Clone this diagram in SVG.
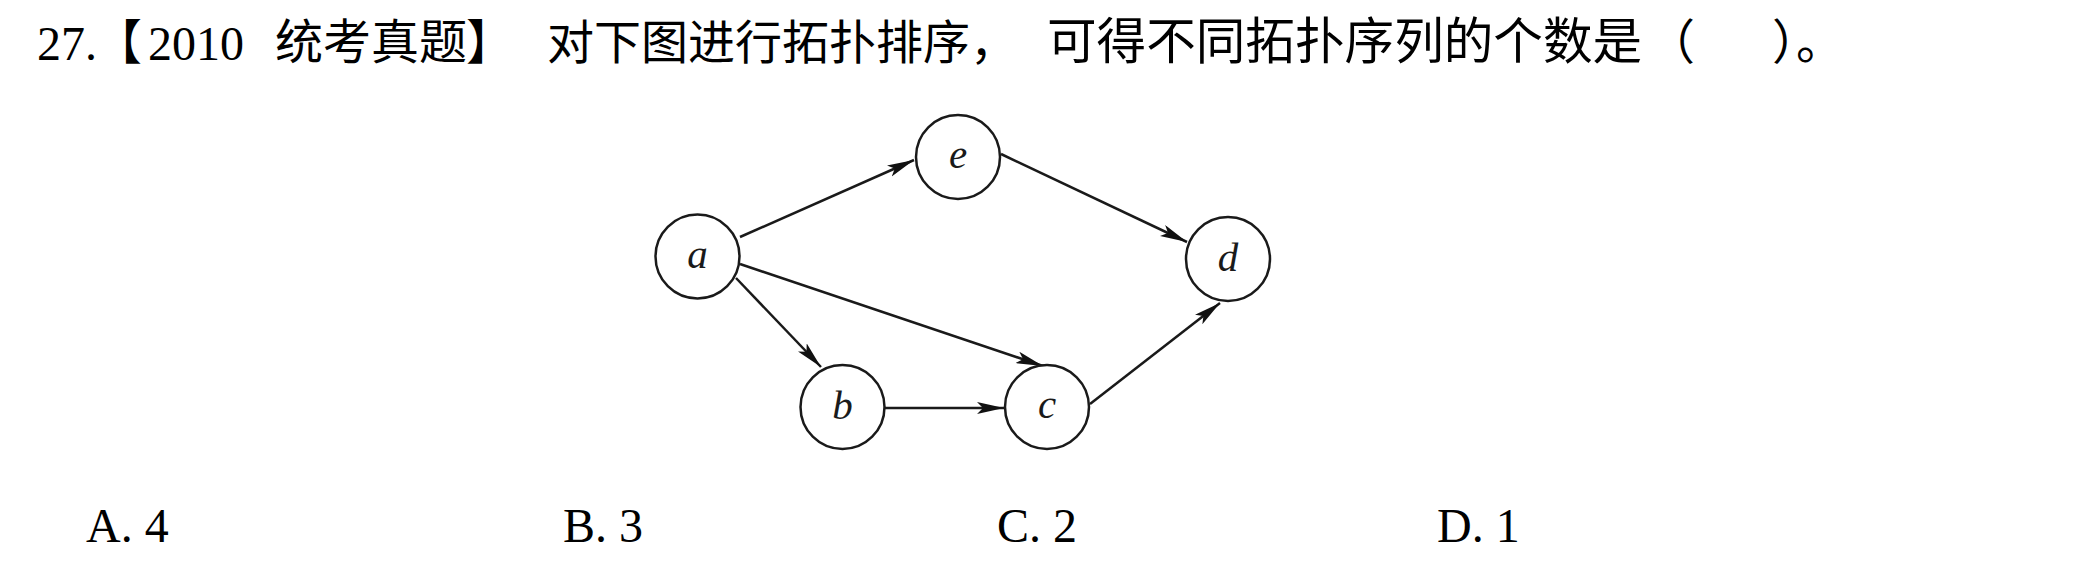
<svg xmlns="http://www.w3.org/2000/svg" width="2081" height="562" viewBox="0 0 2081 562">
<style>
.lat{font-family:"Liberation Serif","Times New Roman",serif;font-size:48px;fill:#000}
.cjk{font-family:"Noto Sans CJK SC","Noto Sans CJK JP",sans-serif;font-size:48px;fill:#000}
.node circle{fill:#fff;stroke:#1a1a1a;stroke-width:2.5}
.node text{font-family:"Liberation Serif","Times New Roman",serif;font-style:italic;font-size:41px;fill:#1a1a1a;text-anchor:middle}
.edge{stroke:#1a1a1a;stroke-width:2.5;fill:none;marker-end:url(#arr)}
</style>
<defs>
<marker id="arr" markerUnits="userSpaceOnUse" markerWidth="30" markerHeight="14" refX="27" refY="6" orient="auto">
<path d="M0,0 L27,6 L0,12 L6,6 Z" fill="#111"/>
</marker>
</defs>
<rect width="2081" height="562" fill="#fff"/>
<g id="title">
<text class="lat" x="37" y="60">27.</text>
<text class="cjk" x="94" y="59">【</text>
<text class="lat" x="148" y="60">2010</text>
<text class="cjk" x="275" y="59">统考真题</text>
<text class="cjk" x="466" y="59">】</text>
<text class="cjk" x="547" y="59" style="font-size:47px">对下图进行拓扑排序，</text>
<text class="cjk" x="1047" y="59" style="font-size:49.6px">可得不同拓扑序列的个数是</text>
<text class="cjk" x="1647" y="59">（</text>
<text class="cjk" x="1772" y="59">）。</text>
</g>
<g id="connectors">
<line class="edge" x1="740" y1="237" x2="914" y2="160"/>
<line class="edge" x1="1001" y1="154" x2="1187" y2="242"/>
<line class="edge" x1="736" y1="278" x2="821" y2="367"/>
<line class="edge" x1="740" y1="264" x2="1043" y2="366"/>
<line class="edge" x1="885" y1="408" x2="1004" y2="408"/>
<line class="edge" x1="1090" y1="404" x2="1220" y2="303"/>
</g>
<g id="node-a" class="node"><circle cx="697.5" cy="256.5" r="42"/><text x="697.5" y="268">a</text></g>
<g id="node-e" class="node"><circle cx="958" cy="157" r="42"/><text x="958" y="168">e</text></g>
<g id="node-d" class="node"><circle cx="1228" cy="259" r="42"/><text x="1228" y="271">d</text></g>
<g id="node-b" class="node"><circle cx="842.5" cy="407" r="42"/><text x="842.5" y="419">b</text></g>
<g id="node-c" class="node"><circle cx="1047" cy="407" r="42"/><text x="1047" y="418">c</text></g>
<g id="options">
<text class="lat" x="86" y="542">A. 4</text>
<text class="lat" x="563" y="542">B. 3</text>
<text class="lat" x="997" y="542">C. 2</text>
<text class="lat" x="1437" y="542">D. 1</text>
</g>
</svg>
